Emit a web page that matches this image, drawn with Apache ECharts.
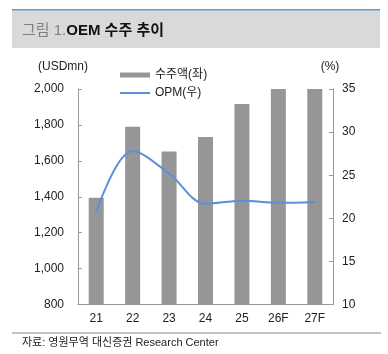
<!DOCTYPE html>
<html>
<head>
<meta charset="utf-8">
<script src="https://cdn.jsdelivr.net/npm/echarts@6/dist/echarts.min.js"></script>
<style>
html,body{margin:0;padding:0;background:#fff;}
#c{width:388px;height:354px;}
</style>
</head>
<body>
<div id="c"></div>
<script>
var categories = ['21', '22', '23', '24', '25', '26F', '27F'];
var orders = [1395, 1790, 1652, 1733, 1917, 2000, 2000];
var opm = [20.7, 27.8, 25.2, 21.7, 22.05, 21.8, 21.9];
var leftTicks = [800, 2000, 200];
var rightTicks = [10, 35, 5];

var FONT = '"Liberation Sans", Arial, "Noto Sans CJK KR", sans-serif';
var chart = echarts.init(document.getElementById('c'), null, {renderer: 'canvas'});
chart.setOption({
  animation: false,
  textStyle: {fontFamily: FONT},
  graphic: [
    {type: 'rect', shape: {x: 12, y: 10, width: 368, height: 38}, style: {fill: '#d9d9d9'}},
    {type: 'rect', shape: {x: 12, y: 9, width: 368, height: 1.5}, style: {fill: '#5b9bd5'}},
    {type: 'text', x: 22, y: 31, style: {
      text: '{a|그림 1.}{b|OEM 수주 추이}', verticalAlign: 'middle',
      rich: {
        a: {fontSize: 15, fill: '#7f7f7f', fontFamily: FONT},
        b: {fontSize: 15, fill: '#111', fontWeight: 'bold', fontFamily: FONT}
      }
    }},
    {type: 'rect', shape: {x: 12, y: 332.5, width: 369, height: 1}, style: {fill: '#888'}},
    {type: 'text', x: 22, y: 343, style: {
      text: '자료: 영원무역 대신증권 Research Center', verticalAlign: 'middle',
      fontSize: 11, fill: '#222', fontFamily: FONT
    }}
  ],
  legend: [
    {data: ['수주액(좌)'], left: 115, top: 64, itemWidth: 30, itemHeight: 5, itemGap: 6,
     icon: 'rect', textStyle: {fontSize: 12, color: '#222', fontFamily: FONT}},
    {data: ['OPM(우)'], left: 115, top: 82, itemWidth: 30, itemHeight: 2, itemGap: 6,
     icon: 'rect', textStyle: {fontSize: 12, color: '#222', fontFamily: FONT}}
  ],
  grid: {left: 78, right: 55, top: 89, bottom: 49.5, containLabel: false},
  xAxis: {
    type: 'category', data: categories,
    axisLine: {lineStyle: {color: '#999'}},
    axisTick: {inside: true, length: 4, lineStyle: {color: '#999'}},
    axisLabel: {fontSize: 12, color: '#222', margin: 8}
  },
  yAxis: [
    {type: 'value', min: leftTicks[0], max: leftTicks[1], interval: leftTicks[2],
     name: '(USDmn)', nameGap: 16, nameTextStyle: {fontSize: 12, color: '#222', align: 'center', padding: [0, 0, 0, -30]},
     axisLine: {show: true, lineStyle: {color: '#999'}},
     axisTick: {show: true, inside: true, length: 4, lineStyle: {color: '#999'}},
     splitLine: {show: false},
     axisLabel: {fontSize: 12, color: '#222', margin: 14,
       formatter: function (v) { return v.toLocaleString('en-US'); }}
    },
    {type: 'value', min: rightTicks[0], max: rightTicks[1], interval: rightTicks[2],
     name: '(%)', nameGap: 16, nameTextStyle: {fontSize: 12, color: '#222', align: 'center', padding: [0, 0, 0, -6]},
     axisLine: {show: true, lineStyle: {color: '#999'}},
     axisTick: {show: true, inside: true, length: 4, lineStyle: {color: '#999'}},
     splitLine: {show: false},
     axisLabel: {fontSize: 12, color: '#222', margin: 9}
    }
  ],
  series: [
    {name: '수주액(좌)', type: 'bar', data: orders, barWidth: 15, itemStyle: {color: '#969696'}, yAxisIndex: 0},
    {name: 'OPM(우)', type: 'line', data: opm, yAxisIndex: 1, smooth: 0.35, symbol: 'none',
     lineStyle: {color: '#5b8fd9', width: 2}, itemStyle: {color: '#5b8fd9'}}
  ]
});
</script>
</body>
</html>
